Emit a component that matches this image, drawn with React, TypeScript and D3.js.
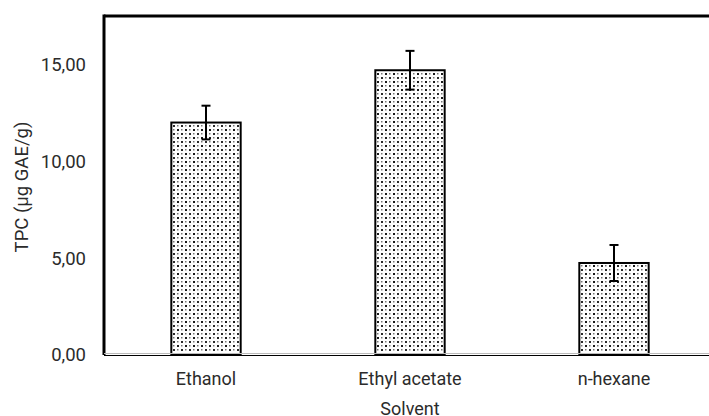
import React, { useRef, useEffect } from "react";
import * as d3 from "d3";

const solvents = ["Ethanol", "Ethyl acetate", "n-hexane"];
const tpcValues = [12.0, 14.7, 4.75];
const tpcErrors = [0.87, 1.0, 0.93];
const yTicks = [0, 5, 10, 15];

function App() {
  const svgRef = useRef<SVGSVGElement | null>(null);

  useEffect(() => {
    const width = 709;
    const height = 416;
    const margin = { top: 16, right: -7, bottom: 61, left: 104 };

    const svg = d3.select(svgRef.current)
      .attr("width", width)
      .attr("height", height);

    svg.selectAll("*").remove();

    const font = "Roboto, 'Noto Sans', sans-serif";

    // dotted fill
    const defs = svg.append("defs");
    const pat = defs.append("pattern")
      .attr("id", "dots")
      .attr("patternUnits", "userSpaceOnUse")
      .attr("width", 8)
      .attr("height", 8);
    pat.append("rect").attr("width", 8).attr("height", 8).attr("fill", "#fff");
    pat.append("rect").attr("x", 1).attr("y", 1).attr("width", 2).attr("height", 2).attr("fill", "#1a1a1a");
    pat.append("rect").attr("x", 5).attr("y", 5).attr("width", 2).attr("height", 2).attr("fill", "#2a2a2a");
    pat.append("rect").attr("x", 5).attr("y", 1).attr("width", 1.5).attr("height", 1.5).attr("fill", "#777");
    pat.append("rect").attr("x", 1).attr("y", 5).attr("width", 1.5).attr("height", 1.5).attr("fill", "#777");

    const x = d3.scaleBand<string>()
      .domain(solvents)
      .range([margin.left, width - margin.right])
      .paddingInner(0.66)
      .paddingOuter(0.33);

    const y = d3.scaleLinear()
      .domain([0, 17.5])
      .range([height - margin.bottom, margin.top]);

    // frame: thick top and left
    svg.append("line")
      .attr("x1", margin.left).attr("x2", width)
      .attr("y1", y(17.5)).attr("y2", y(17.5))
      .attr("stroke", "#000").attr("stroke-width", 3);
    svg.append("line")
      .attr("x1", margin.left).attr("x2", margin.left)
      .attr("y1", y(17.5) - 1.5).attr("y2", y(0))
      .attr("stroke", "#000").attr("stroke-width", 3);

    // bars
    svg.append("g")
      .selectAll("rect")
      .data(solvents)
      .enter()
      .append("rect")
      .attr("x", d => x(d) as number)
      .attr("y", (d, i) => y(tpcValues[i]))
      .attr("width", x.bandwidth())
      .attr("height", (d, i) => y(0) - y(tpcValues[i]))
      .attr("fill", "url(#dots)")
      .attr("stroke", "#000")
      .attr("stroke-width", 2);

    // bottom axis line
    svg.append("line")
      .attr("x1", margin.left).attr("x2", width)
      .attr("y1", y(0) - 1.5).attr("y2", y(0) - 1.5)
      .attr("stroke", "#bbb").attr("stroke-width", 1);
    svg.append("line")
      .attr("x1", margin.left).attr("x2", width)
      .attr("y1", y(0) + 0.5).attr("y2", y(0) + 0.5)
      .attr("stroke", "#000").attr("stroke-width", 1.2);

    // error bars
    const eb = svg.append("g").attr("stroke", "#000").attr("stroke-width", 2);
    solvents.forEach((s, i) => {
      const cx = (x(s) as number) + x.bandwidth() / 2;
      const hi = y(tpcValues[i] + tpcErrors[i]);
      const lo = y(tpcValues[i] - tpcErrors[i]);
      eb.append("line").attr("x1", cx).attr("x2", cx).attr("y1", hi).attr("y2", lo);
      eb.append("line").attr("x1", cx - 4.5).attr("x2", cx + 4.5).attr("y1", hi).attr("y2", hi);
      eb.append("line").attr("x1", cx - 4.5).attr("x2", cx + 4.5).attr("y1", lo).attr("y2", lo);
    });

    // y tick labels
    svg.append("g")
      .selectAll("text")
      .data(yTicks)
      .enter()
      .append("text")
      .attr("x", 86)
      .attr("y", d => y(d))
      .attr("dy", "0.35em")
      .attr("text-anchor", "end")
      .attr("font-family", font)
      .attr("font-size", 18.5)
      .attr("fill", "#2b2b2b")
      .text(d => d3.format(".2f")(d).replace(".", ","));

    // x tick labels
    svg.append("g")
      .selectAll("text")
      .data(solvents)
      .enter()
      .append("text")
      .attr("x", d => (x(d) as number) + x.bandwidth() / 2)
      .attr("y", 385)
      .attr("text-anchor", "middle")
      .attr("font-family", font)
      .attr("font-size", 18)
      .attr("fill", "#2b2b2b")
      .text(d => d);

    // axis titles
    svg.append("text")
      .attr("x", 410)
      .attr("y", 415)
      .attr("text-anchor", "middle")
      .attr("font-family", font)
      .attr("font-size", 18)
      .attr("fill", "#2b2b2b")
      .text("Solvent");

    svg.append("text")
      .attr("transform", "rotate(-90)")
      .attr("x", -187)
      .attr("y", 22)
      .attr("dy", "0.35em")
      .attr("text-anchor", "middle")
      .attr("font-family", font)
      .attr("font-size", 18.5)
      .attr("fill", "#2b2b2b")
      .text("TPC (µg GAE/g)");
  }, []);

  return (
    <div style={{ position: "absolute", left: 0, top: 0 }}>
      <svg ref={svgRef}></svg>
    </div>
  );
}

export default App;
